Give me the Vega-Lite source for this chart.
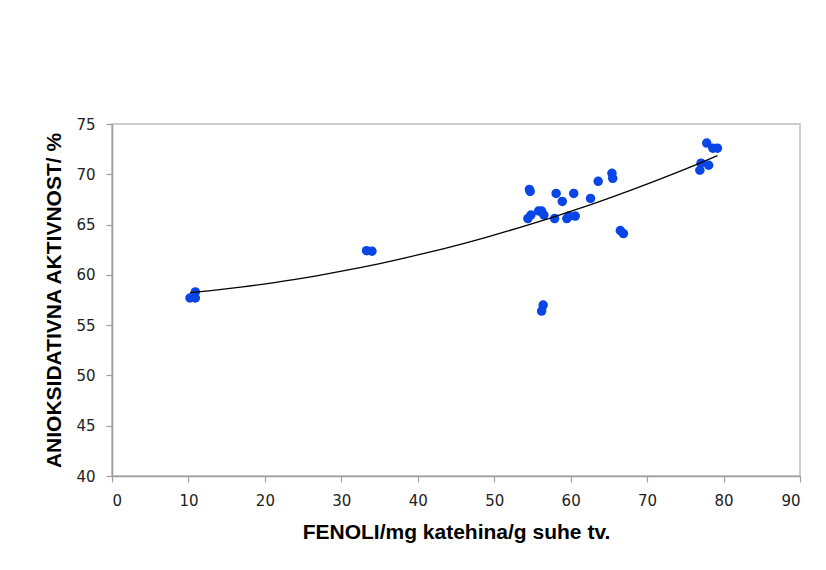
{
  "$schema": "https://vega.github.io/schema/vega-lite/v6.json",
  "width": 688,
  "height": 352,
  "autosize": "none",
  "padding": {"left": 112, "top": 124, "right": 26, "bottom": 94},
  "background": "white",
  "config": {
    "view": {"stroke": "#bfbfbf", "strokeWidth": 1.5},
    "axis": {
      "grid": false,
      "domainColor": "#9e9e9e",
      "domainWidth": 1.5,
      "tickColor": "#9e9e9e",
      "tickWidth": 1.2,
      "tickSize": 6,
      "labelFont": "DejaVu Sans",
      "labelFontSize": 15,
      "labelColor": "#222222",
      "labelPadding": 11,
      "titleFont": "Liberation Sans",
      "titleFontSize": 21,
      "titleFontWeight": "bold",
      "titleColor": "#000000"
    }
  },
  "data": {
    "values": [
      {"x": 10.2, "y": 57.7},
      {"x": 10.9, "y": 57.7},
      {"x": 10.9, "y": 58.3},
      {"x": 33.3, "y": 62.4},
      {"x": 34.0, "y": 62.35},
      {"x": 54.4, "y": 65.6},
      {"x": 54.8, "y": 65.95},
      {"x": 54.6, "y": 68.5},
      {"x": 54.7, "y": 68.3},
      {"x": 55.8, "y": 66.35},
      {"x": 56.2, "y": 66.35},
      {"x": 56.5, "y": 65.95},
      {"x": 57.9, "y": 65.6},
      {"x": 58.1, "y": 68.1},
      {"x": 58.9, "y": 67.3},
      {"x": 59.5, "y": 65.6},
      {"x": 59.8, "y": 65.85},
      {"x": 60.6, "y": 65.85},
      {"x": 60.4, "y": 68.1},
      {"x": 62.6, "y": 67.6},
      {"x": 63.6, "y": 69.3},
      {"x": 65.4, "y": 70.1},
      {"x": 65.5, "y": 69.6},
      {"x": 66.5, "y": 64.4},
      {"x": 66.9, "y": 64.1},
      {"x": 56.4, "y": 57.0},
      {"x": 56.2, "y": 56.4},
      {"x": 76.9, "y": 70.4},
      {"x": 77.05, "y": 71.1},
      {"x": 78.05, "y": 70.9},
      {"x": 77.8, "y": 73.1},
      {"x": 78.6, "y": 72.6},
      {"x": 79.2, "y": 72.6}
    ]
  },
  "layer": [
    {
      "mark": {"type": "point", "filled": true, "size": 90, "color": "#0a46e6", "opacity": 1},
      "encoding": {
        "x": {
          "field": "x", "type": "quantitative",
          "scale": {"domain": [0, 90], "nice": false},
          "axis": {"values": [0, 10, 20, 30, 40, 50, 60, 70, 80, 90], "title": "FENOLI/mg katehina/g suhe tv.", "titlePadding": 13}
        },
        "y": {
          "field": "y", "type": "quantitative",
          "scale": {"domain": [40, 75], "nice": false, "zero": false},
          "axis": {"values": [40, 45, 50, 55, 60, 65, 70, 75], "title": "ANIOKSIDATIVNA  AKTIVNOST/ %", "titlePadding": 11}
        }
      }
    },
    {
      "transform": [{"regression": "y", "on": "x", "method": "poly", "order": 2}],
      "mark": {"type": "line", "color": "#000000", "strokeWidth": 1.3},
      "encoding": {
        "x": {"field": "x", "type": "quantitative"},
        "y": {"field": "y", "type": "quantitative"}
      }
    }
  ]
}
